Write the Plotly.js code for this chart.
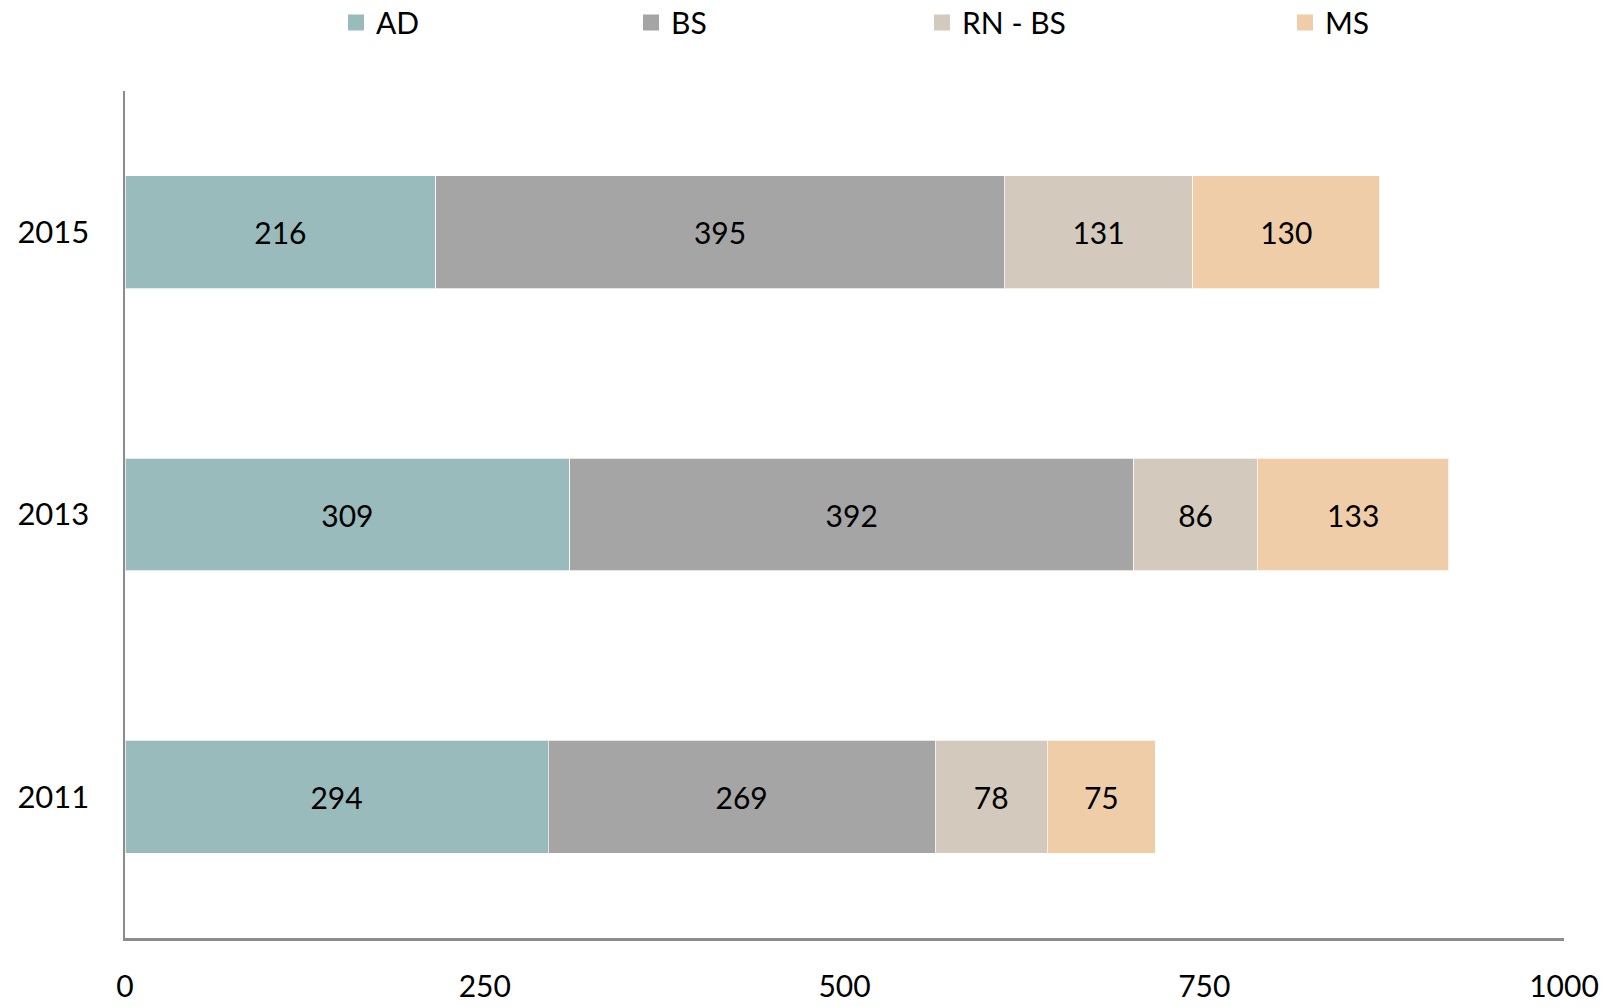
<!DOCTYPE html>
<html>
<head>
<meta charset="utf-8">
<script src="https://cdn.plot.ly/plotly-3.0.1.min.js"></script>
<style>html,body{margin:0;padding:0;background:#fff;}#chart{width:1617px;height:1007px;}</style>
</head>
<body>
<div id="chart"></div>
<script>
const years = ['2011', '2013', '2015'];
const seriesNames = ['AD', 'BS', 'RN - BS', 'MS'];
const AD = [294, 309, 216];
const BS = [269, 392, 395];
const RN_BS = [78, 86, 131];
const MS = [75, 133, 130];
const xTicks = [0, 250, 500, 750, 1000];

const seriesValues = [AD, BS, RN_BS, MS];
const colors = ['#99BBBB', '#A5A5A5', '#D3CABD', '#F0CDA9'];
const legendIds = ['legend', 'legend2', 'legend3', 'legend4'];
const legendX = [336, 631, 922, 1285];
const FONT = 'Lato, "Open Sans", sans-serif';

const traces = [];
seriesValues.forEach((vals, i) => {
  traces.push({
    type: 'bar',
    orientation: 'h',
    name: seriesNames[i],
    y: years,
    x: vals,
    text: vals.map(String),
    textposition: 'inside',
    insidetextanchor: 'middle',
    constraintext: 'none',
    textfont: {family: FONT, size: 30, color: '#000'},
    marker: {color: colors[i], line: {color: 'rgba(255,255,255,0.7)', width: 1}},
    showlegend: false,
    hoverinfo: 'x+name'
  });
});
seriesValues.forEach((vals, i) => {
  traces.push({
    type: 'scatter',
    mode: 'markers',
    name: seriesNames[i],
    x: [null],
    y: [null],
    marker: {symbol: 'square', size: 16, color: colors[i], line: {width: 0}},
    showlegend: true,
    legend: legendIds[i],
    hoverinfo: 'skip'
  });
});

const layout = {
  width: 1617,
  height: 1007,
  margin: {l: 125, r: 53, t: 91, b: 69},
  paper_bgcolor: '#fff',
  plot_bgcolor: '#fff',
  barmode: 'stack',
  bargap: 0.6,
  font: {family: FONT, size: 30, color: '#000'},
  xaxis: {
    range: [0, 1000],
    tickvals: xTicks,
    ticktext: xTicks.map(String),
    showgrid: false,
    zeroline: false,
    showline: true,
    linecolor: '#8C8C8C',
    linewidth: 3,
    ticks: '',
    ticklabelstandoff: 20,
    tickfont: {family: FONT, size: 30, color: '#000'},
    fixedrange: true
  },
  yaxis: {
    type: 'category',
    categoryorder: 'array',
    categoryarray: years,
    range: [-0.5, 2.5],
    showgrid: false,
    zeroline: false,
    showline: true,
    linecolor: '#8C8C8C',
    linewidth: 2.5,
    ticks: '',
    ticklabelstandoff: 27,
    tickfont: {family: FONT, size: 31, color: '#000'},
    fixedrange: true
  },
  showlegend: true
};
legendIds.forEach((id, i) => {
  layout[id] = {
    xref: 'container', yref: 'container',
    x: legendX[i] / 1617, y: 1 - 22.5 / 1007,
    xanchor: 'left', yanchor: 'middle',
    orientation: 'h',
    bgcolor: 'rgba(0,0,0,0)',
    borderwidth: 0,
    font: {family: FONT, size: 30, color: '#000'}
  };
});

Plotly.newPlot('chart', traces, layout, {displayModeBar: false, staticPlot: true});
</script>
</body>
</html>
